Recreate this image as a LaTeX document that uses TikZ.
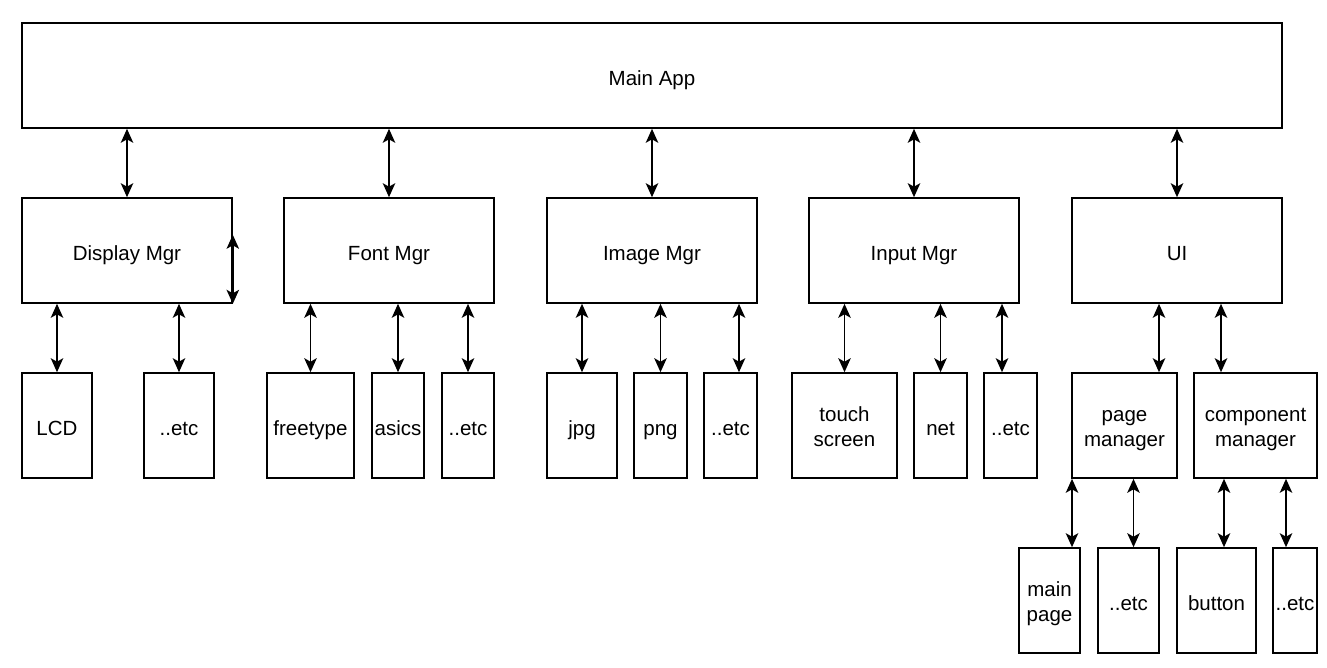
\documentclass[tikz,border=0pt]{standalone}
\usepackage{fontspec}
\setmainfont{Liberation Sans}
\usetikzlibrary{arrows.meta}
\begin{document}
\begin{tikzpicture}[x=1pt,y=-1pt,
  box/.style={draw=black, line width=1.6pt, inner sep=0pt,
    font=\fontsize{20.5}{24.5}\selectfont, text height=20pt, text depth=0pt},
  twoline/.style={text height=0pt, text depth=8pt},
  arr/.style={line width=1.6pt, {Stealth[length=14pt,width=12.5pt,inset=3.5pt]}-{Stealth[length=14pt,width=12.5pt,inset=3.5pt]}}
]
\useasboundingbox (0,0) rectangle (1327,667);
\newcommand{\bx}[7][]{\node[box,#1, minimum width={#5-#3}, minimum height={#6-#4}] (#2) at ({(#3+#5)/2},{(#4+#6)/2}) {#7};}
\newcommand{\tl}[2]{\begin{tabular}[t]{@{}c@{}}#1\\#2\end{tabular}}
% top
\bx{main}{22}{23}{1282}{128}{Main App}
% row 2
\bx{disp}{22}{198}{232}{303}{Display Mgr}
\bx{font}{284}{198}{494}{303}{Font Mgr}
\bx{img}{547}{198}{757}{303}{Image Mgr}
\bx{inp}{809}{198}{1019}{303}{Input Mgr}
\bx{ui}{1072}{198}{1282}{303}{UI}
% row 3
\bx{lcd}{22}{373}{92}{478}{LCD}
\bx{etcA}{144}{373}{214}{478}{..etc}
\bx{ft}{267}{373}{354}{478}{freetype}
\bx{asics}{372}{373}{424}{478}{asics}
\bx{etcB}{442}{373}{494}{478}{..etc}
\bx{jpg}{547}{373}{617}{478}{jpg}
\bx{png}{634}{373}{687}{478}{png}
\bx{etcC}{704}{373}{757}{478}{..etc}
\bx[twoline]{touch}{792}{373}{897}{478}{\tl{touch}{screen}}
\bx{net}{914}{373}{967}{478}{net}
\bx{etcD}{984}{373}{1037}{478}{..etc}
\bx[twoline]{pm}{1072}{373}{1177}{478}{\tl{page}{manager}}
\bx[twoline]{cm}{1194}{373}{1317}{478}{\tl{component}{manager}}
% row 4
\bx[twoline]{mp}{1019}{548}{1080}{653}{\tl{main}{page}}
\bx{etcE}{1098}{548}{1159}{653}{..etc}
\bx{btn}{1177}{548}{1256}{653}{button}
\bx{etcF}{1273}{548}{1317}{653}{..etc}
% main to row 2
\foreach \n in {disp,font,img,inp,ui}
  \draw[arr] (main.south -| \n.north) -- (\n.north);
% row 2 to row 3 (centred)
\foreach \p/\c in {disp/lcd, disp/etcA, font/ft, font/asics, font/etcB, img/jpg, img/png, inp/touch, inp/net}
  \draw[arr] (\p.south -| \c.north) -- (\c.north);
% offset ones
\coordinate (k1) at ([xshift=8.5pt]etcC.north);
\coordinate (k2) at ([xshift=-8.5pt]etcD.north);
\coordinate (k3) at ([xshift=34.5pt]pm.north);
\coordinate (k4) at ([xshift=-34.5pt]cm.north);
\draw[arr] (img.south -| k1) -- (k1);
\draw[arr] (inp.south -| k2) -- (k2);
\draw[arr] (ui.south -| k3) -- (k3);
\draw[arr] (ui.south -| k4) -- (k4);
% row 3 to row 4
\coordinate (m1) at ([xshift=-52.5pt]pm.south);
\coordinate (m2) at ([xshift=9pt]pm.south);
\coordinate (m3) at ([xshift=-31.5pt]cm.south);
\coordinate (m4) at ([xshift=30.5pt]cm.south);
\draw[arr] (m1) -- (mp.north -| m1);
\draw[arr] (m2) -- (etcE.north -| m2);
\draw[arr] (m3) -- (btn.north -| m3);
\draw[arr] (m4) -- (etcF.north -| m4);
% stray arrow on Display Mgr edge
\coordinate (s1) at ([yshift=69pt]disp.south east);
\draw[arr] (s1) -- (disp.south east);
\end{tikzpicture}
\end{document}
